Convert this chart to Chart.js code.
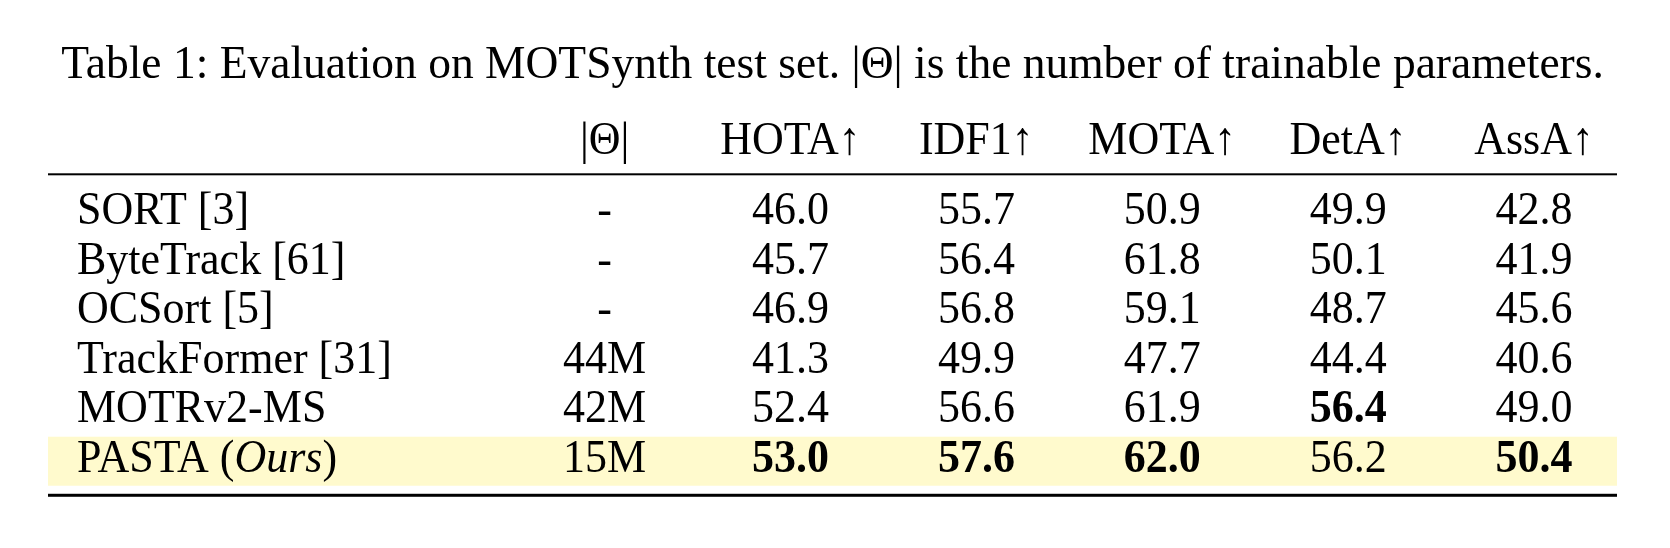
<!DOCTYPE html>
<html><head><meta charset="utf-8">
<script src="https://cdn.jsdelivr.net/npm/chart.js@4.4.1/dist/chart.umd.min.js"></script>
<style>html,body{margin:0;padding:0;background:#fff}#wrap{width:1670px;height:548px;position:relative}</style>
</head><body><div id="wrap"><canvas id="c"></canvas></div>
<script>
// ---- data ----
const caption = "Table 1: Evaluation on MOTSynth test set. |Θ| is the number of trainable parameters.";
const methods = ["SORT [3]", "ByteTrack [61]", "OCSort [5]", "TrackFormer [31]", "MOTRv2-MS", "PASTA (*Ours*)"];
const columnHeaders = ["|Θ|", "HOTA↑", "IDF1↑", "MOTA↑", "DetA↑", "AssA↑"];
const paramCounts = ["-", "-", "-", "44M", "42M", "15M"];
const hota = [46.0, 45.7, 46.9, 41.3, 52.4, 53.0];
const idf1 = [55.7, 56.4, 56.8, 49.9, 56.6, 57.6];
const mota = [50.9, 61.8, 59.1, 47.7, 61.9, 62.0];
const deta = [49.9, 50.1, 48.7, 44.4, 56.4, 56.2];
const assa = [42.8, 41.9, 45.6, 40.6, 49.0, 50.4];
const highlightRow = 5;

// ---- build datasets ----
const FONT = "'Liberation Serif', 'Times New Roman', serif";
const metricCols = [hota, idf1, mota, deta, assa];
const METHOD_X = -1.838;
const HEADER_Y = -1.42;
const BODY_SIZE = 44;
const STRETCH_Y = 1.04;

const datasets = [];
datasets.push({
  label: 'Method',
  data: methods.map((m, r) => ({x: METHOD_X, y: r})),
  cellText: methods, bold: methods.map(() => false), align: 'left'
});
datasets.push({
  label: columnHeaders[0],
  data: paramCounts.map((p, r) => ({x: 1, y: r})),
  cellText: paramCounts, bold: paramCounts.map(() => false), align: 'center'
});
metricCols.forEach((vals, c) => {
  const mx = Math.max(...vals);
  datasets.push({
    label: columnHeaders[c + 1],
    data: vals.map((v, r) => ({x: c + 2, y: r})),
    cellText: vals.map(v => v.toFixed(1)),
    bold: vals.map(v => v === mx),
    align: 'center'
  });
});
datasets.forEach(d => { d.pointRadius = 0; d.pointHoverRadius = 0; d.showLine = false; });

function putText(ctx, text, x, y) {
  ctx.save();
  ctx.translate(x, y);
  ctx.scale(1, STRETCH_Y);
  ctx.fillText(text, 0, 0);
  ctx.restore();
}

function drawRich(ctx, text, x, y, size) {
  const parts = text.split('*');
  let cx = x;
  parts.forEach((p, i) => {
    if (!p) return;
    ctx.font = (i % 2 ? 'italic ' : '') + size + 'px ' + FONT;
    ctx.textAlign = 'left';
    putText(ctx, p, cx, y);
    cx += ctx.measureText(p).width;
  });
}

const tablePlugin = {
  id: 'tableText',
  beforeDatasetsDraw(chart) {
    const {ctx, chartArea: a, scales: {x, y}} = chart;
    ctx.save();
    ctx.fillStyle = '#fffacd';
    const t = y.getPixelForValue(highlightRow - 0.703), b = y.getPixelForValue(highlightRow + 0.287);
    ctx.fillRect(a.left, t, a.right - a.left, b - t);
    ctx.fillStyle = '#000';
    const r1 = y.getPixelForValue(-1.004);
    ctx.fillRect(a.left, r1 - 1, a.right - a.left, 2);
    const r2 = y.getPixelForValue(methods.length - 0.52);
    ctx.fillRect(a.left, r2 - 1.5, a.right - a.left, 3);
    ctx.restore();
  },
  afterDatasetsDraw(chart) {
    const {ctx, scales: {x, y}} = chart;
    ctx.save();
    ctx.fillStyle = '#000';
    ctx.textBaseline = 'alphabetic';
    const hy = y.getPixelForValue(HEADER_Y);
    columnHeaders.forEach((h, c) => {
      ctx.font = BODY_SIZE + 'px ' + FONT;
      ctx.textAlign = 'center';
      putText(ctx, h, x.getPixelForValue(c + 1), hy);
    });
    chart.data.datasets.forEach((ds, di) => {
      const meta = chart.getDatasetMeta(di);
      meta.data.forEach((pt, i) => {
        const txt = ds.cellText[i];
        if (ds.align === 'left') {
          drawRich(ctx, txt, pt.x, pt.y, BODY_SIZE);
        } else {
          ctx.font = (ds.bold[i] ? 'bold ' : '') + BODY_SIZE + 'px ' + FONT;
          ctx.textAlign = 'center';
          putText(ctx, txt, pt.x, pt.y);
        }
      });
    });
    ctx.restore();
  }
};

new Chart(document.getElementById('c'), {
  type: 'scatter',
  data: {datasets},
  options: {
    responsive: true, maintainAspectRatio: false, animation: false, events: [],
    layout: {padding: {left: 48, right: 53, top: 0, bottom: 0}},
    plugins: {
      legend: {display: false}, tooltip: {enabled: false},
      title: {display: true, text: caption, color: '#000',
        font: {family: FONT, size: 45.5, weight: 'normal', lineHeight: 1.2},
        padding: {top: 38.35, bottom: 7.05}}
    },
    scales: {
      x: {type: 'linear', display: false, min: -1.994, max: 6.446},
      y: {type: 'linear', display: false, reverse: true, min: -2.505, max: 6.545}
    }
  },
  plugins: [tablePlugin]
});
</script></body></html>
